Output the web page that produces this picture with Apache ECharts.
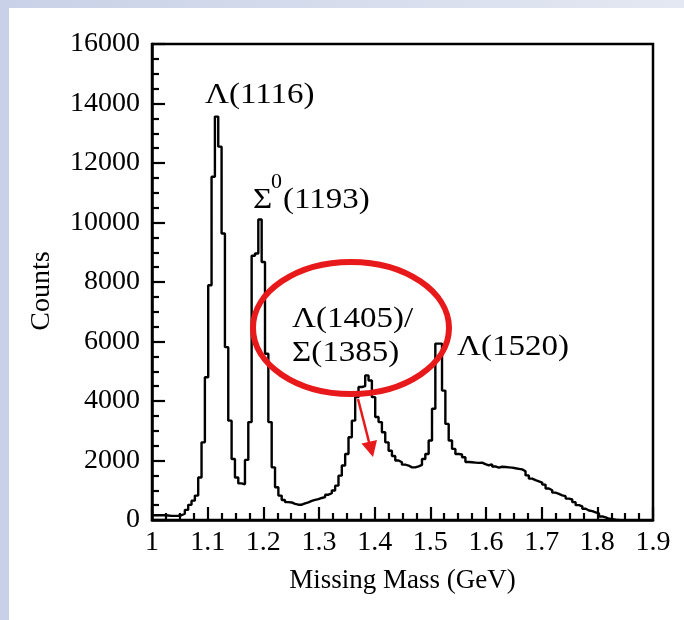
<!DOCTYPE html>
<html>
<head>
<meta charset="utf-8">
<title>Missing Mass</title>
<script src="https://cdn.jsdelivr.net/npm/echarts/dist/echarts.min.js"></script>
<style>
  html, body { margin: 0; padding: 0; background: #fff; }
  #main { width: 684px; height: 620px; }
</style>
</head>
<body>
<div id="main"></div>
<script>
// histogram: 6 MeV bins, first low edge just below 1 GeV
var binStart = 0.999;
var binWidth = 0.006;

var counts = [
  160, 160, 165, 160, 150, 140, 140, 145, 160, 210,
  340, 510, 650, 820, 1430, 2610, 4800, 7890, 11540, 13560,
  12550, 9630, 5810, 3340, 2050, 1430, 1230, 1200, 2020, 3290,
  8880, 8960, 10100, 8670, 5590, 3290, 1770, 1100, 820, 670,
  600, 590, 540, 515, 515, 560, 595, 640, 675, 700,
  740, 770, 850, 900, 990, 1155, 1490, 1830, 2220, 2780,
  3340, 4130, 4470, 4500, 4860, 4690, 4130, 3460, 3290, 2950,
  2610, 2330, 2150, 2000, 1940, 1860, 1830, 1770, 1770, 1800,
  1850, 2050, 2220, 2670, 3740, 5930, 5930, 4350, 3230, 2670,
  2390, 2220, 2200, 2110, 1950, 1940, 1930, 1920, 1930, 1880,
  1840, 1870, 1800, 1760, 1790, 1780, 1770, 1760, 1740, 1720,
  1700, 1640, 1500, 1390, 1340, 1300, 1260, 1190, 1060, 1000,
  920, 880, 830, 800, 720, 690, 600, 500, 460, 380,
  320, 300, 260, 220, 120, 90, 40, 30, 10, 0
];

var peakNames = ['Λ(1116)', 'Σ', '0', '(1193)', 'Λ(1405)/', 'Σ(1385)', 'Λ(1520)'];

var histData = [];
for (var i = 0; i < counts.length; i++) {
  histData.push([+(binStart + i * binWidth).toFixed(3), counts[i]]);
}
histData.push([+(binStart + counts.length * binWidth).toFixed(3), 0]);

var serif = '"Liberation Serif", "DejaVu Serif", serif';
var red = '#e8191b';

function note(txt, x, y, size) {
  return {
    type: 'text', x: x, y: y, scaleX: 1.1, z: 20,
    style: {
      text: txt, font: size + 'px ' + serif, fill: '#000',
      textAlign: 'left', textVerticalAlign: 'middle', align: 'left', verticalAlign: 'middle'
    }
  };
}

var chart = echarts.init(document.getElementById('main'));

var option = {
  animation: false,
  backgroundColor: '#fff',
  grid: { left: 152, right: 31, top: 44, bottom: 100, show: true, borderColor: '#000', borderWidth: 2.5 },
  xAxis: {
    type: 'value', min: 1, max: 1.9, interval: 0.1,
    axisLine: { onZero: false, lineStyle: { color: '#000', width: 2.5 } },
    axisTick: { inside: true, length: 13, lineStyle: { color: '#000', width: 2.2 } },
    minorTick: { show: true, splitNumber: 4, length: 7, lineStyle: { color: '#000', width: 2.2 } },
    axisLabel: { color: '#000', fontFamily: serif, fontSize: 28, margin: 9, showMinLabel: true, showMaxLabel: true },
    splitLine: { show: false },
    name: 'Missing Mass (GeV)', nameLocation: 'middle', nameGap: 47,
    nameTextStyle: { color: '#000', fontFamily: serif, fontSize: 27 }
  },
  yAxis: {
    type: 'value', min: 0, max: 16000, interval: 2000,
    axisLine: { show: true, lineStyle: { color: '#000', width: 2.5 } },
    axisTick: { show: true, inside: true, length: 13, lineStyle: { color: '#000', width: 2.2 } },
    minorTick: { show: true, splitNumber: 4, length: 7, lineStyle: { color: '#000', width: 2.2 } },
    axisLabel: {
      color: '#000', fontFamily: serif, fontSize: 28, margin: 12,
      formatter: function (v) { return String(v); }
    },
    splitLine: { show: false }
  },
  series: [{
    type: 'line', step: 'end', data: histData,
    symbol: 'none', showSymbol: false, clip: true,
    lineStyle: { color: '#000', width: 2.4 }
  }],
  graphic: [
    // slide background strips
    { type: 'rect', z: -10, shape: { x: 0, y: 0, width: 9, height: 620 }, style: { fill: '#c8d1e7' } },
    {
      type: 'rect', z: -10, shape: { x: 0, y: 0, width: 684, height: 8 },
      style: {
        fill: new echarts.graphic.LinearGradient(0, 0, 1, 0, [
          { offset: 0, color: '#c8d1e7' }, { offset: 1, color: '#e4e8f2' }
        ])
      }
    },
    {
      type: 'text', x: 42, y: 291, rotation: Math.PI / 2, z: 20,
      style: {
        text: 'Counts', font: '28px ' + serif, fill: '#000',
        textAlign: 'center', textVerticalAlign: 'middle', align: 'center', verticalAlign: 'middle'
      }
    },
    note(peakNames[0], 205, 95, 30),
    note(peakNames[1], 253, 200, 30),
    note(peakNames[2], 271, 183, 20),
    note(peakNames[3], 283, 200, 30),
    note(peakNames[4], 292, 319, 30),
    note(peakNames[5], 292, 353, 30),
    note(peakNames[6], 457, 347, 30),
    {
      type: 'ellipse', z: 30, shape: { cx: 351, cy: 328, rx: 98, ry: 66 },
      style: { fill: null, stroke: red, lineWidth: 6 }
    },
    {
      type: 'line', z: 30, shape: { x1: 358, y1: 399, x2: 369, y2: 442 },
      style: { stroke: red, lineWidth: 2.5 }
    },
    {
      type: 'polygon', z: 30, shape: { points: [[361.5, 443.5], [377, 440], [373, 457]] },
      style: { fill: red }
    }
  ]
};

chart.setOption(option);
</script>
</body>
</html>
